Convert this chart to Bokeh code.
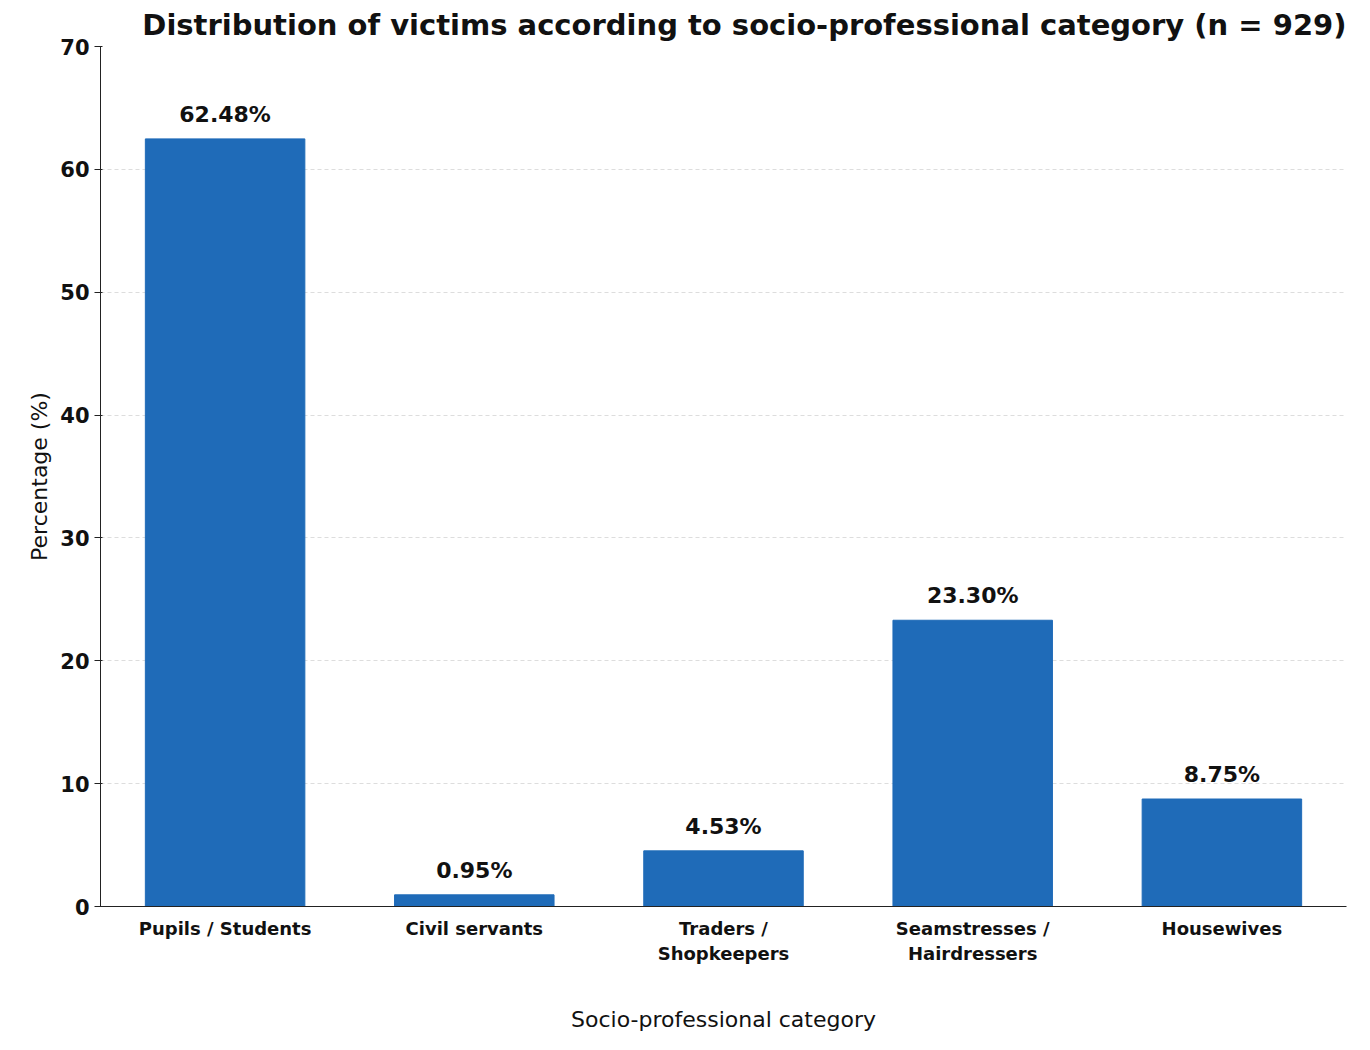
from bokeh.plotting import figure
from bokeh.models import ColumnDataSource, LabelSet, FixedTicker
from bokeh.core.properties import value
from bokeh.embed import file_html
from bokeh.resources import INLINE

categories = ["Pupils / Students", "Civil servants", "Traders /\nShopkeepers", "Seamstresses /\nHairdressers", "Housewives"]
values = [62.48, 0.95, 4.53, 23.30, 8.75]
labels = ["62.48%", "0.95%", "4.53%", "23.30%", "8.75%"]

src = ColumnDataSource(dict(cat=categories, val=values, lab=labels))
F = "DejaVu Sans"
p = figure(x_range=categories, y_range=(0, 70), width=1354, height=1034,
           output_backend="svg", toolbar_location=None,
           title="Distribution of victims according to socio-professional category (n = 929)",
           min_border_left=100, min_border_right=8, min_border_bottom=117, min_border_top=30)
p.vbar(x="cat", top="val", width=0.64, source=src, color="#1f6bb8")
p.add_layout(LabelSet(x="cat", y="val", text="lab", source=src, y_offset=12,
                      text_align="center", text_font=value(F), text_font_size="22px",
                      text_font_style="bold", text_color="#111111"))
p.title.text_font = F
p.title.text_font_size="29px"
p.title.align = "right"
p.title.text_color = "#111111"
p.xgrid.grid_line_color = None
p.ygrid.grid_line_color = "#dddddd"
p.ygrid.grid_line_dash = "4 3"
p.outline_line_color = None
p.yaxis.ticker = FixedTicker(ticks=[0,10,20,30,40,50,60,70])
p.yaxis.axis_label = "Percentage (%)"
p.xaxis.axis_label = "Socio-professional category"
for ax in (p.xaxis, p.yaxis):
    ax.axis_label_text_font = F
    ax.axis_label_text_font_style = "normal"
    ax.axis_label_text_font_size = "22px"
    ax.axis_label_text_color = "#111111"
    ax.major_label_text_font = F
    ax.major_label_text_font_style = "bold"
    ax.major_label_text_color = "#111111"
    ax.axis_line_color = "#222222"
    ax.major_tick_line_color = "#222222"
    ax.minor_tick_line_color = None
p.yaxis.major_label_text_font_size = "21px"
p.xaxis.major_label_text_font_size = "18px"
p.xaxis.major_tick_line_color = None
p.xaxis.axis_label_standoff = 40
p.x_range.range_padding = 0.0
open("out.html", "w").write(file_html(p, INLINE))
